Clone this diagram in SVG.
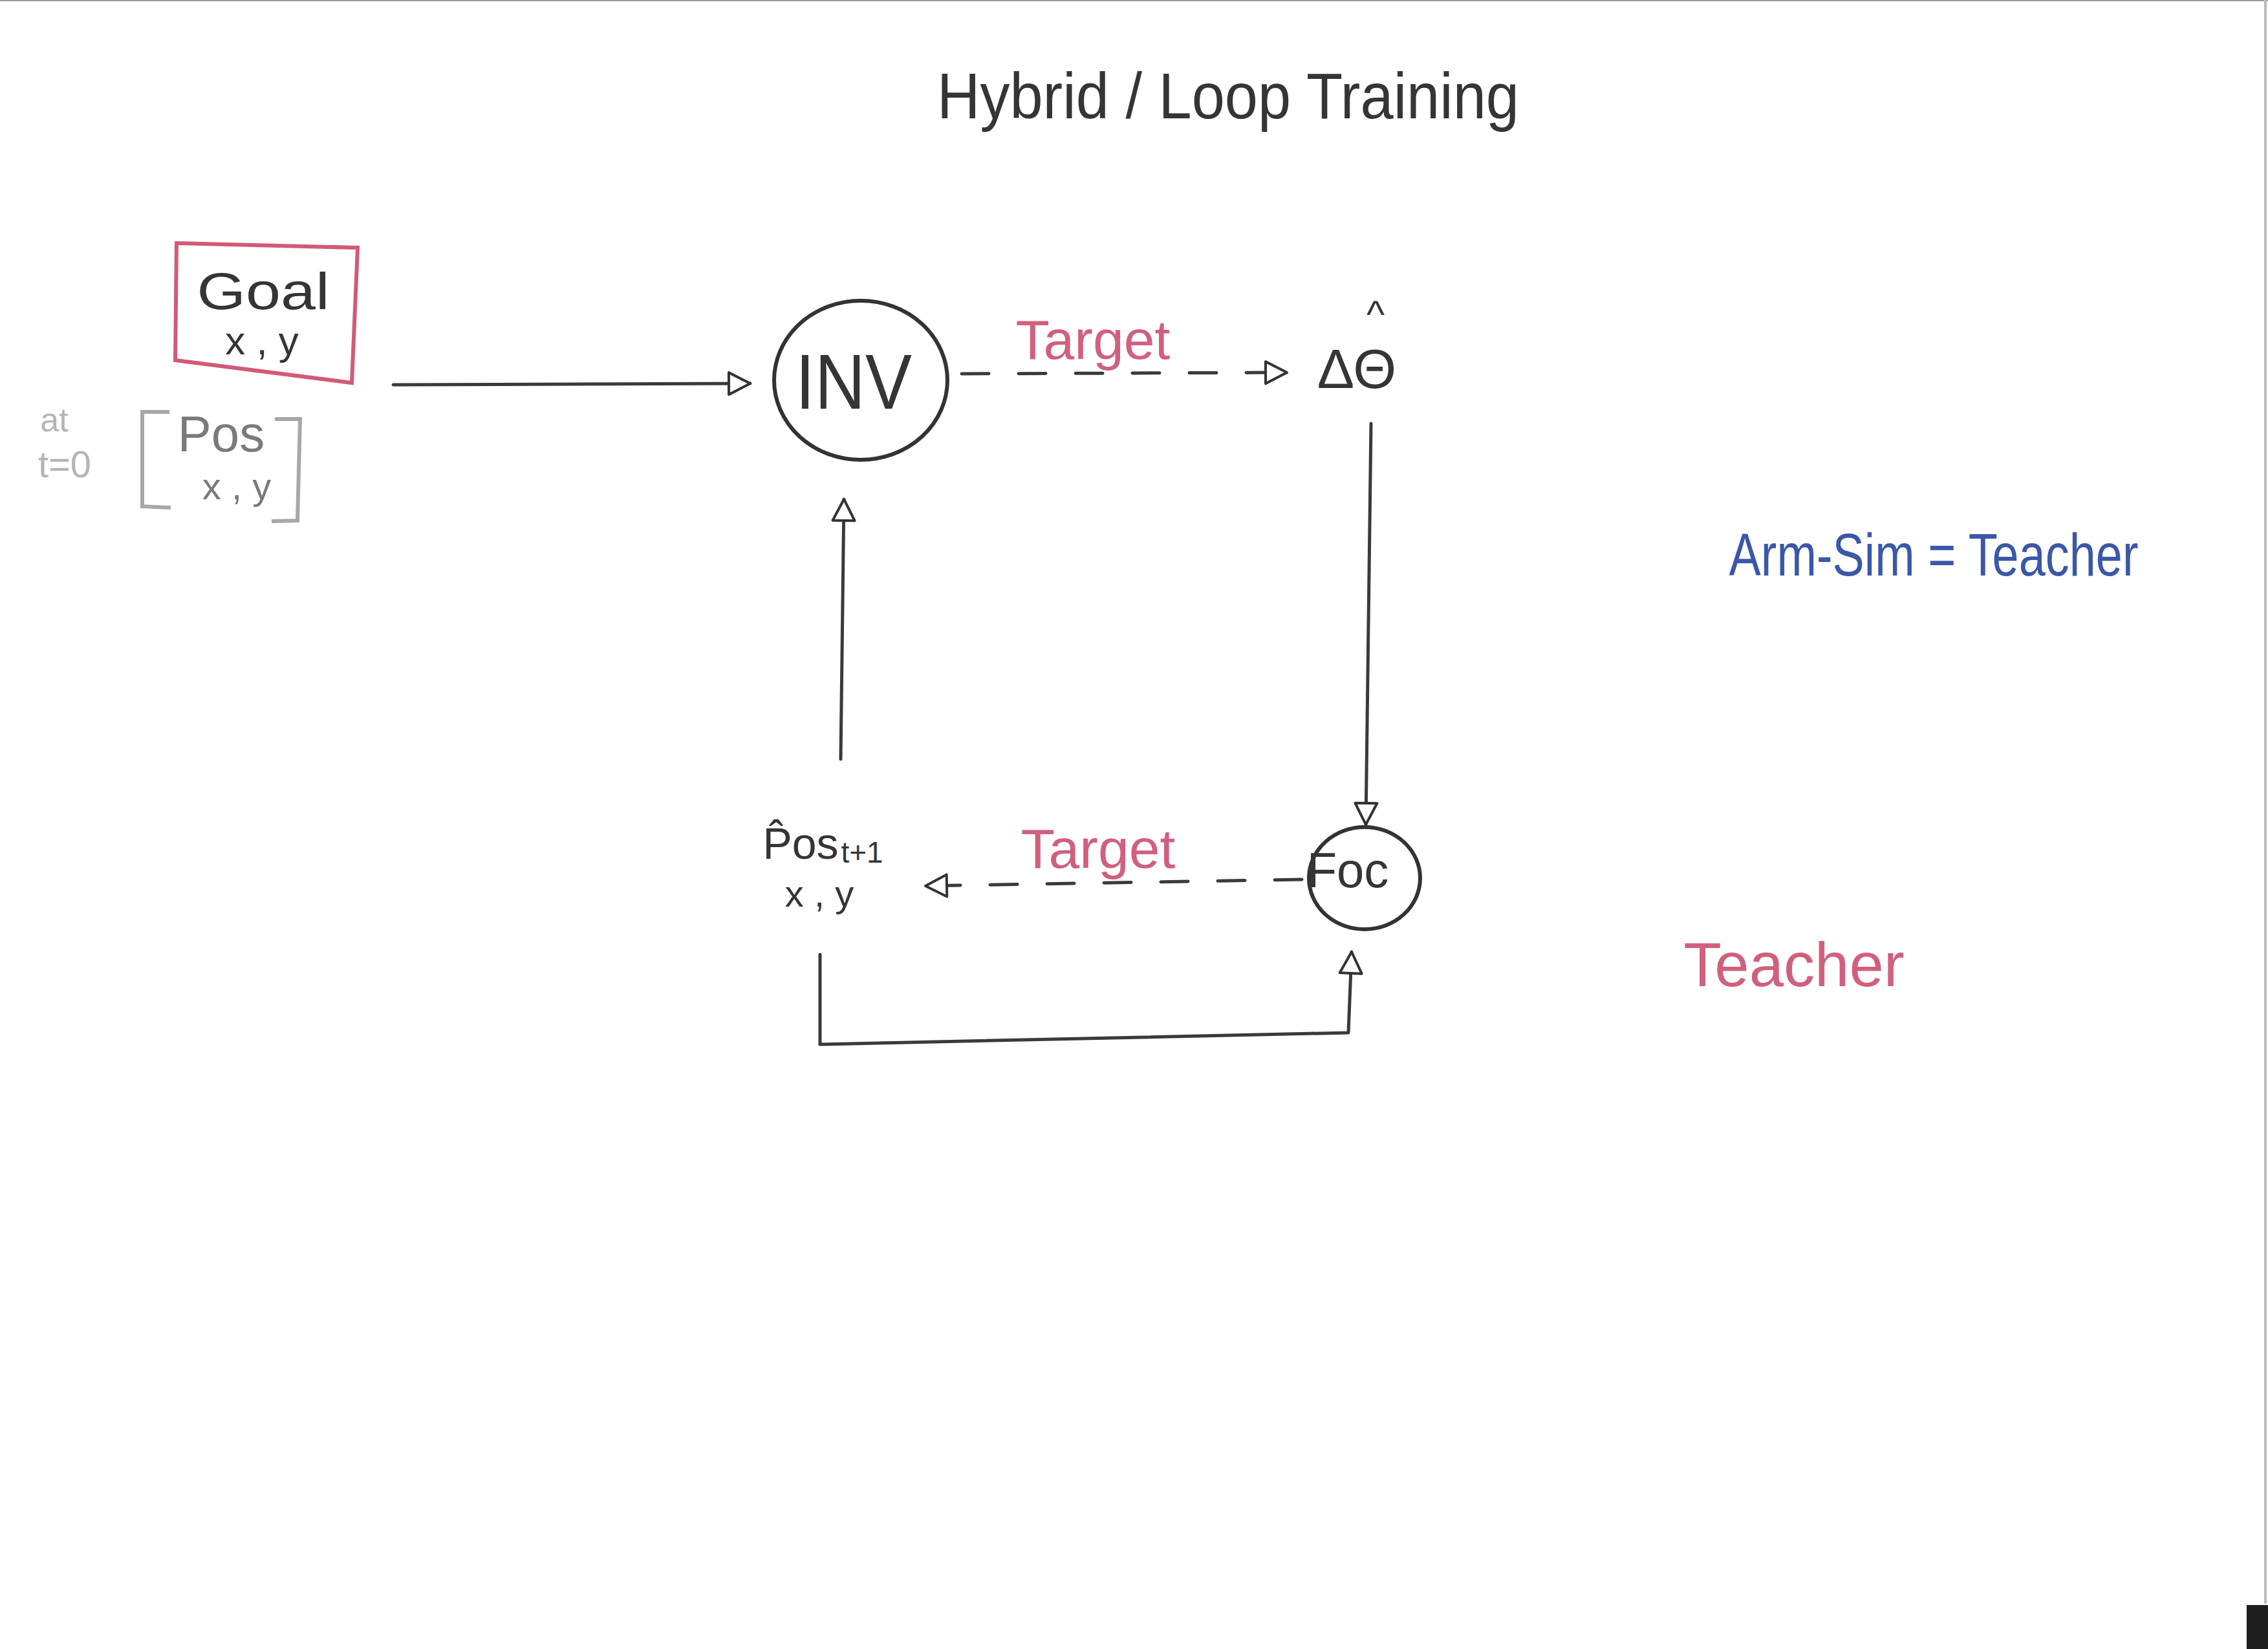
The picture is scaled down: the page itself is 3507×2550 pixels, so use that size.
<svg xmlns="http://www.w3.org/2000/svg" width="3507" height="2550" viewBox="0 0 3507 2550">
<defs>
<style>
.ink{fill:#353535;font-family:"Liberation Sans","DejaVu Sans",Arial,sans-serif}
.pink{fill:#d0607e;font-family:"Liberation Sans",Arial,sans-serif}
.blue{fill:#3b57a8;font-family:"Liberation Sans",Arial,sans-serif}
.grey{fill:#7a7a7a;font-family:"Liberation Sans",Arial,sans-serif}
.lgrey{fill:#b5b5b5;font-family:"Liberation Sans",Arial,sans-serif}
.line{fill:none;stroke:#3a3a3a;stroke-width:5;stroke-linecap:round;stroke-linejoin:round}
.dash{stroke-dasharray:42 46}
.node{fill:none;stroke:#333;stroke-width:6}
</style>
<marker id="tri" viewBox="0 0 40 40" refX="37" refY="20" markerWidth="40" markerHeight="40" markerUnits="userSpaceOnUse" orient="auto">
<path d="M4,3 L37,20 L4,37 Z" fill="#fff" stroke="#333" stroke-width="4" stroke-linejoin="round"/>
</marker>
</defs>
<rect width="3507" height="2550" fill="#fff"/>
<line x1="0" y1="1" x2="3507" y2="1" stroke="#999" stroke-width="2"/>
<line x1="3503" y1="0" x2="3503" y2="2480" stroke="#bbb" stroke-width="4"/>
<rect x="3474" y="2482" width="33" height="68" fill="#1e1e1e"/>

<g id="title">
<text class="ink" x="1449" y="183" font-size="100" textLength="900" lengthAdjust="spacingAndGlyphs">Hybrid / Loop Training</text>
</g>

<g id="goal">
<path d="M273,376 L553,383 L544,592 L271,557 Z" fill="none" stroke="#d25a78" stroke-width="6"/>
<text class="ink" x="407" y="478" font-size="80" text-anchor="middle" textLength="205" lengthAdjust="spacingAndGlyphs">Goal</text>
<text class="ink" x="405" y="548" font-size="62" text-anchor="middle">x , y</text>
</g>

<g id="pos0">
<path d="M262,637 L220,637 L220,783 L264,785" fill="none" stroke="#a8a8a8" stroke-width="6"/>
<path d="M425,648 L464,648 L460,805 L420,806" fill="none" stroke="#a8a8a8" stroke-width="6"/>
<text class="grey" x="342" y="698" font-size="78" text-anchor="middle">Pos</text>
<text class="grey" x="366" y="772" font-size="58" text-anchor="middle">x , y</text>
<text class="lgrey" x="84" y="667" font-size="52" text-anchor="middle">at</text>
<text class="lgrey" x="100" y="738" font-size="58" text-anchor="middle">t=0</text>
</g>

<g id="inv">
<ellipse class="node" cx="1331" cy="588" rx="134" ry="123"/>
<text class="ink" x="1320" y="632" font-size="120" text-anchor="middle" textLength="180" lengthAdjust="spacingAndGlyphs">INV</text>
</g>

<g id="dtheta">
<text class="ink" x="2098" y="600" font-size="86" text-anchor="middle">ΔΘ</text>
<text class="ink" x="2127" y="507" font-size="60" text-anchor="middle">^</text>
</g>

<g id="foc">
<ellipse class="node" cx="2110" cy="1358" rx="86" ry="79"/>
<text class="ink" x="2084" y="1372" font-size="76" text-anchor="middle">Foc</text>
</g>

<g id="pos1">
<text class="ink" x="1238" y="1328" font-size="68" text-anchor="middle">P̂os</text>
<text class="ink" x="1333" y="1334" font-size="46" text-anchor="middle">t+1</text>
<text class="ink" x="1267" y="1402" font-size="58" text-anchor="middle">x , y</text>
</g>

<g id="labels">
<text class="pink" x="1690" y="555" font-size="86" text-anchor="middle">Target</text>
<text class="pink" x="1698" y="1342" font-size="86" text-anchor="middle">Target</text>
<text class="blue" x="2990" y="890" font-size="92" text-anchor="middle" textLength="633" lengthAdjust="spacingAndGlyphs">Arm-Sim = Teacher</text>
<text class="pink" x="2774" y="1525" font-size="96" text-anchor="middle">Teacher</text>
</g>

<g id="connectors">
<path class="line" d="M608,595 L1160,593" marker-end="url(#tri)"/>
<path class="line dash" d="M1487,578 L1990,576" marker-end="url(#tri)"/>
<path class="line" d="M2120,655 L2112,1275" marker-end="url(#tri)"/>
<path class="line dash" d="M2013,1360 L1431,1370" marker-end="url(#tri)"/>
<path class="line" d="M1300,1174 L1305,772" marker-end="url(#tri)"/>
<path class="line" d="M1268,1476 L1268,1615 L2085,1597 L2090,1472" marker-end="url(#tri)"/>
</g>
</svg>
